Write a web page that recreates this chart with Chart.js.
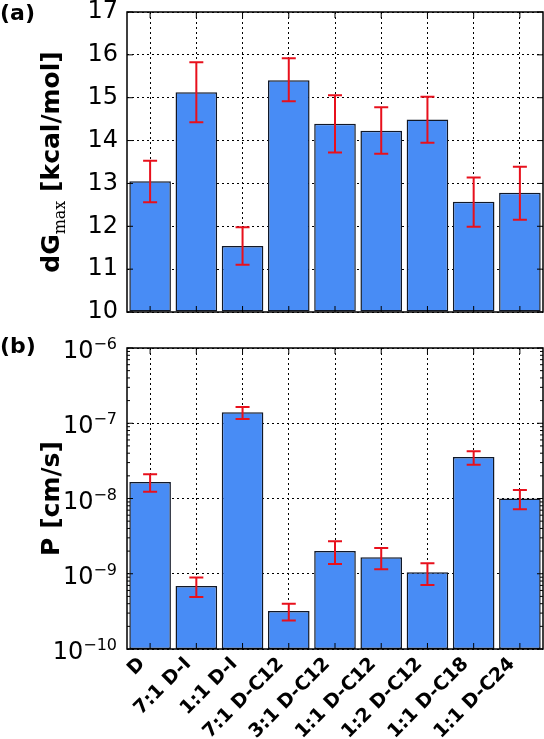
<!DOCTYPE html>
<html>
<head>
<meta charset="utf-8">
<script src="https://cdn.jsdelivr.net/npm/chart.js@4"></script>
<style>
  body { margin: 0; background: #fff; }
  #top { position: absolute; left: 0; top: 0; width: 544px; height: 330px; }
  #bot { position: absolute; left: 0; top: 330px; width: 544px; height: 409px; }
</style>
</head>
<body>
<div id="top"><canvas id="chartA"></canvas></div>
<div id="bot"><canvas id="chartB"></canvas></div>
<script>
const labels = ['D', '7:1 D-I', '1:1 D-I', '7:1 D-C12', '3:1 D-C12', '1:1 D-C12', '1:2 D-C12', '1:1 D-C18', '1:1 D-C24'];

// (a) dG max [kcal/mol]
const dG = [13.05, 15.13, 11.54, 15.41, 14.39, 14.23, 14.49, 12.57, 12.78];
const dGLow = [12.56, 14.43, 11.10, 14.92, 13.72, 13.69, 13.95, 11.99, 12.15];
const dGHigh = [13.53, 15.83, 11.98, 15.92, 15.06, 14.78, 15.02, 13.14, 13.39];

// (b) P [cm/s]
const perm = [1.66e-8, 6.9e-10, 1.4e-7, 3.2e-10, 2.0e-9, 1.66e-9, 1.05e-9, 3.55e-8, 1.0e-8];
const permLow = [1.23e-8, 4.9e-10, 1.14e-7, 2.4e-10, 1.35e-9, 1.15e-9, 7.1e-10, 2.8e-8, 7.2e-9];
const permHigh = [2.1e-8, 8.9e-10, 1.64e-7, 4.0e-10, 2.7e-9, 2.2e-9, 1.38e-9, 4.24e-8, 1.3e-8];

const dGTicks = [10, 11, 12, 13, 14, 15, 16, 17];
const permTicks = [1e-10, 1e-9, 1e-8, 1e-7, 1e-6];

const barFill = 'rgb(72,140,245)';
const barEdge = '#111827';
const errColor = 'rgb(232,16,28)';

// error bars with caps
const errBars = {
  id: 'errBars',
  afterDatasetsDraw(chart, args, opts) {
    const ctx = chart.ctx, xs = chart.scales.x, ys = chart.scales.y;
    ctx.save();
    ctx.strokeStyle = errColor;
    ctx.lineWidth = 2;
    opts.low.forEach((lo, i) => {
      const x = xs.getPixelForValue(i);
      const y1 = ys.getPixelForValue(lo), y2 = ys.getPixelForValue(opts.high[i]);
      ctx.beginPath();
      ctx.moveTo(x, y1); ctx.lineTo(x, y2);
      ctx.moveTo(x - 7, y1); ctx.lineTo(x + 7, y1);
      ctx.moveTo(x - 7, y2); ctx.lineTo(x + 7, y2);
      ctx.stroke();
    });
    ctx.restore();
  }
};

// axes box, inward ticks, power-of-ten labels, y title with subscript, panel letter
const frame = {
  id: 'frame',
  afterDraw(chart, args, opts) {
    const ctx = chart.ctx, a = chart.chartArea, xs = chart.scales.x, ys = chart.scales.y;
    ctx.save();
    ctx.strokeStyle = '#000';
    ctx.lineWidth = 1;
    ctx.beginPath();
    ys.ticks.forEach(t => {
      const y = ys.getPixelForValue(t.value);
      ctx.moveTo(a.left, y); ctx.lineTo(a.left + 6, y);
      ctx.moveTo(a.right, y); ctx.lineTo(a.right - 6, y);
    });
    labels.forEach((l, i) => {
      const x = xs.getPixelForValue(i);
      ctx.moveTo(x, a.top); ctx.lineTo(x, a.top + 6);
      ctx.moveTo(x, a.bottom); ctx.lineTo(x, a.bottom - 6);
    });
    if (opts.log) {
      for (let d = -10; d < -6; d++) {
        for (let k = 2; k < 10; k++) {
          const y = ys.getPixelForValue(k * Math.pow(10, d));
          ctx.moveTo(a.left, y); ctx.lineTo(a.left + 3, y);
          ctx.moveTo(a.right, y); ctx.lineTo(a.right - 3, y);
        }
      }
    }
    ctx.stroke();
    ctx.lineWidth = 1.5;
    ctx.strokeRect(a.left, a.top, a.right - a.left, a.bottom - a.top);

    ctx.fillStyle = '#000';
    ctx.textBaseline = 'alphabetic';

    if (opts.log) {
      ys.ticks.forEach(t => {
        const y = ys.getPixelForValue(t.value) + 10;
        const ex = '\u2212' + String(-Math.round(Math.log10(t.value)));
        ctx.textAlign = 'right';
        ctx.font = '16px "DejaVu Sans"';
        const ew = ctx.measureText(ex).width;
        ctx.fillText(ex, a.left - 10, y - 9);
        ctx.font = '24px "DejaVu Sans"';
        ctx.fillText('10', a.left - 10 - ew, y);
      });
    }

    ctx.textAlign = 'left';
    ctx.font = 'bold 22px "DejaVu Sans"';
    ctx.fillText(opts.panel, 0, opts.panelY);

    ctx.translate(59, (a.top + a.bottom) / 2);
    ctx.rotate(-Math.PI / 2);
    let total = 0;
    opts.title.forEach(p => { ctx.font = p.font; p.w = ctx.measureText(p.text).width; total += p.w; });
    let x = -total / 2;
    opts.title.forEach(p => { ctx.font = p.font; ctx.fillText(p.text, x, p.dy || 0); x += p.w; });
    ctx.restore();
  }
};

const titleFont = 'bold 25px "DejaVu Sans"';

new Chart(document.getElementById('chartA'), {
  type: 'bar',
  data: {
    labels: labels,
    datasets: [{
      data: dG,
      base: 10,
      backgroundColor: barFill,
      borderColor: barEdge,
      borderWidth: 1.5,
      borderSkipped: false,
      categoryPercentage: 0.9,
      barPercentage: 1.0,
      clip: 0
    }]
  },
  options: {
    responsive: true,
    maintainAspectRatio: false,
    animation: false,
    layout: { padding: { top: 12, right: 1, left: 0, bottom: 0 } },
    plugins: {
      legend: { display: false },
      tooltip: { enabled: false },
      errBars: { low: dGLow, high: dGHigh },
      frame: {
        panel: '(a)', panelY: 20, log: false,
        title: [
          { text: 'dG', font: titleFont },
          { text: 'max', font: '16px "DejaVu Serif"', dy: 6 },
          { text: ' [kcal/mol]', font: titleFont }
        ]
      }
    },
    scales: {
      x: {
        grid: { offset: false, color: '#000', lineWidth: 1, drawTicks: false },
        border: { display: false, dash: [2, 3] },
        ticks: { display: false },
        afterFit(scale) { scale.height = 18; }
      },
      y: {
        min: 10, max: 17,
        grid: { color: '#000', lineWidth: 1, drawTicks: true, tickLength: 9, tickColor: 'rgba(0,0,0,0)' },
        border: { display: false, dash: [2, 3] },
        ticks: { color: '#000', font: { family: 'DejaVu Sans', size: 24, lineHeight: 1 }, padding: 0, stepSize: 1 },
        afterBuildTicks(scale) { scale.ticks = dGTicks.map(v => ({ value: v })); },
        afterFit(scale) { scale.width = 127; }
      }
    }
  },
  plugins: [errBars, frame]
});

new Chart(document.getElementById('chartB'), {
  type: 'bar',
  data: {
    labels: labels,
    datasets: [{
      data: perm,
      backgroundColor: barFill,
      borderColor: barEdge,
      borderWidth: 1.5,
      borderSkipped: false,
      categoryPercentage: 0.9,
      barPercentage: 1.0,
      clip: 0
    }]
  },
  options: {
    responsive: true,
    maintainAspectRatio: false,
    animation: false,
    layout: { padding: { top: 18, right: 1, left: 0, bottom: 0 } },
    plugins: {
      legend: { display: false },
      tooltip: { enabled: false },
      errBars: { low: permLow, high: permHigh },
      frame: {
        panel: '(b)', panelY: 23, log: true,
        title: [{ text: 'P [cm/s]', font: titleFont }]
      }
    },
    scales: {
      x: {
        grid: { offset: false, color: '#000', lineWidth: 1, drawTicks: false },
        border: { display: false, dash: [2, 3] },
        ticks: {
          color: '#000', font: { family: 'DejaVu Sans', size: 19, weight: 'bold' },
          minRotation: 45, maxRotation: 45, autoSkip: false, padding: 4, labelOffset: -8
        },
        afterFit(scale) { scale.height = 90; }
      },
      y: {
        type: 'logarithmic',
        min: 1e-10, max: 1e-6,
        grid: { color: '#000', lineWidth: 1, drawTicks: false },
        border: { display: false, dash: [2, 3] },
        ticks: { display: false },
        afterBuildTicks(scale) { scale.ticks = permTicks.map(v => ({ value: v })); },
        afterFit(scale) { scale.width = 127; }
      }
    }
  },
  plugins: [errBars, frame]
});
</script>
</body>
</html>
